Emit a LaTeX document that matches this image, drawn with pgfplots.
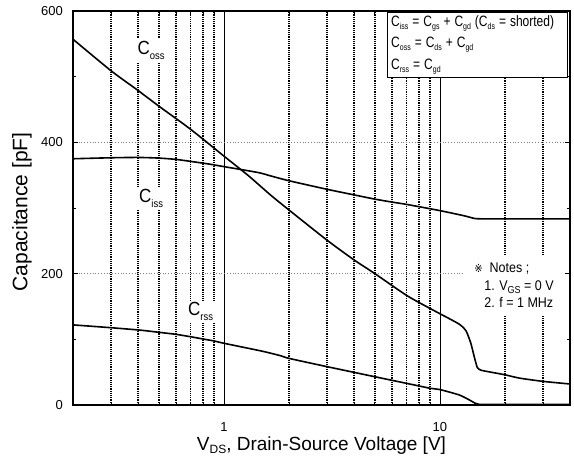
\documentclass[border=0pt]{standalone}
\usepackage{graphicx}
\usepackage{pgfplots}
\pgfplotsset{compat=1.18}
\usepackage{fontspec}
\setmainfont{Liberation Sans}
\newfontfamily\symfont{DejaVu Sans}
\newcommand{\sbl}[1]{\raisebox{-2.5pt}{\fontsize{7}{7}\selectfont #1}}
\newcommand{\sbc}[1]{\raisebox{-4.5pt}{\fontsize{9.5}{9.5}\selectfont #1}}
\newcommand{\sbn}[1]{\raisebox{-2.5pt}{\fontsize{9}{9}\selectfont #1}}
\newcommand{\tl}[1]{\scalebox{1}[1.25]{#1}}
\newcommand{\tc}[1]{\scalebox{1}[1.12]{#1}}
\begin{document}
\begin{tikzpicture}
\useasboundingbox (-73pt,-62pt) rectangle (501pt,405pt);
\begin{axis}[
  at={(0,0)}, anchor=south west,
  scale only axis, width=497pt, height=394pt,
  xmode=log, xmin=0.2, xmax=40, ymin=0, ymax=600,
  xtick={1,10}, xticklabels={1,10},
  minor xtick={0.3,0.4,0.5,0.6,0.7,0.8,0.9,2,3,4,5,6,7,8,9,20,30},
  ytick={0,200,400,600}, yticklabels={0,200,400,600},
  minor ytick={100,300,500},
  tick align=inside,
  major tick length=5pt, minor tick length=3pt,
  every tick/.style={black, line width=0.9pt},
  xmajorgrids, xminorgrids,
  major grid style={black, line width=0.8pt},
  minor grid style={black, line width=1.2pt, densely dotted},
  extra y ticks={200,400}, extra y tick labels={},
  extra y tick style={grid=major, major grid style={gray, dotted, line width=0.8pt}},
  axis line style={line width=1.4pt},
  ticklabel style={font=\fontsize{13}{13}\selectfont, inner sep=0pt},
  xticklabel style={yshift=-17pt},
  yticklabel style={xshift=-10pt},
  xlabel={V\raisebox{-3.5pt}{\fontsize{12}{12}\selectfont DS}, Drain-Source Voltage [V]},
  ylabel={Capacitance [pF]},
  xlabel style={font=\fontsize{19}{19}\selectfont, at={(axis description cs:0.5,-0.102)}, anchor=center},
  ylabel style={font=\fontsize{21}{21}\selectfont, at={(axis description cs:-0.1026,0.49)}, anchor=center},
]
\addplot[black, line width=1.6pt, smooth, tension=0.4] coordinates {
(0.2,557) (0.3,509) (0.4,479) (0.5,455) (0.7,420) (1,379) (1.3,349) (1.64,320)
(2,297) (3,251) (4,221) (5,200) (7,167) (9,147) (10,139) (12.3,123) (13.2,113)
(13.9,94) (14.4,74) (14.9,57) (15.5,53) (16.9,50.5) (20,46) (23.3,41) (30,36) (40,32)
};
\addplot[black, line width=1.6pt, smooth, tension=0.4] coordinates {
(0.2,375) (0.3,376.5) (0.4,377) (0.5,376) (0.6,374) (0.7,371) (0.85,367) (1,363)
(1.44,354) (1.64,349) (2,341.5) (3,328.5) (4,320) (5,313.5) (6,309) (7,305.5)
(10,296) (13,288) (14.5,284) (16,283.5) (20,283.5) (40,283.5)
};
\addplot[black, line width=1.6pt, smooth, tension=0.4] coordinates {
(0.2,122) (0.3,117.7) (0.41,114) (0.5,110.7) (0.6,107.6) (0.7,104) (0.8,100.5)
(0.9,97.5) (1,94) (1.5,82) (1.83,75) (2,71) (3,58.4) (5,43) (7,33) (9,25.5)
(10,23.5) (12.3,15.2) (13.7,7.6) (14.5,3) (15.2,1) (16,0.8) (40,0.8)
};
\node[fill=white, inner sep=2pt, font=\fontsize{17}{17}\selectfont] at (axis cs:0.46,540) {\tc{C\sbc{oss}}};
\node[fill=white, inner sep=2pt, font=\fontsize{17}{17}\selectfont] at (axis cs:0.46,315) {\tc{C\sbc{iss}}};
\node[fill=white, inner sep=2pt, font=\fontsize{17}{17}\selectfont] at (axis cs:0.78,142) {\tc{C\sbc{rss}}};
\node[draw, line width=1pt, fill=white, anchor=north east, align=left,
      inner xsep=4pt, inner ysep=3pt, text width=172pt, minimum height=61pt,
      font=\fontsize{12}{21.5}\selectfont] at (rel axis cs:0.9954,0.9975)
  {\tl{C\sbl{iss} = C\sbl{gs} + C\sbl{gd} (C\sbl{ds} = shorted)}\\
   \tl{C\sbl{oss} = C\sbl{ds} + C\sbl{gd}}\\
   \tl{C\sbl{rss} = C\sbl{gd}}};
\node[fill=white, anchor=north west, align=left, inner xsep=11pt, inner ysep=8pt,
      font=\fontsize{12.5}{17.5}\selectfont] at (rel axis cs:0.785,0.381)
  {\tc{{\symfont\fontsize{10}{10}\selectfont ※}\ \ Notes ;}\\
   \tc{\hspace{10pt}1. V\sbn{GS} = 0 V}\\
   \tc{\hspace{10pt}2. f = 1 MHz}};
\end{axis}
\end{tikzpicture}
\end{document}
